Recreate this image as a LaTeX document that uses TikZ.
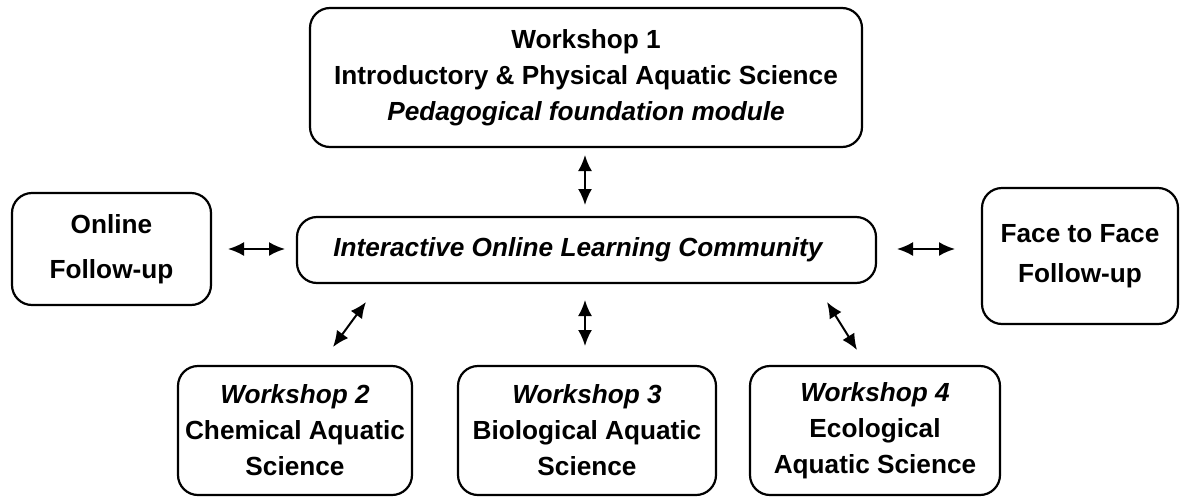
\documentclass[tikz,border=0pt]{standalone}
\usepackage{fontspec}
\setmainfont{Liberation Sans}
\usetikzlibrary{arrows.meta}
\begin{document}
\begin{tikzpicture}[x=1pt,y=-1pt,
  box/.style={draw, line width=2.2pt, rounded corners=20pt, align=center, inner sep=0pt,
    font=\fontsize{26.2}{36}\selectfont\bfseries},
  link/.style={line width=2pt, {Latex[length=16pt,width=14pt]}-{Latex[length=16pt,width=14pt]}}]
\useasboundingbox (0,0) rectangle (1186,501);
\node[box, minimum width=552pt, minimum height=139pt] (w1) at (586,77.5)
  {Workshop 1\\Introductory \& Physical Aquatic Science\\\textit{Pedagogical foundation module}};
\node[box, minimum width=199pt, minimum height=112pt, font=\fontsize{26.2}{45}\selectfont\bfseries] (on) at (111.5,249) {Online\\Follow-up};
\node[box, minimum width=579pt, minimum height=66pt] (olc) at (586.5,250)
  {\textit{Interactive Online Learning Community}\hspace{16pt}};
\node[box, minimum width=196pt, minimum height=136pt, font=\fontsize{26.2}{40}\selectfont\bfseries] (ff) at (1080,256) {Face to Face\\Follow-up};
\node[box, minimum width=234pt, minimum height=129pt] (w2) at (295,430.5)
  {\textit{Workshop 2}\\Chemical Aquatic\\Science};
\node[box, minimum width=258pt, minimum height=129pt] (w3) at (587,430.5)
  {\textit{Workshop 3}\\Biological Aquatic\\Science};
\node[box, minimum width=250pt, minimum height=129pt] (w4) at (875,430.5)
  {\textit{Workshop 4}\\Ecological\\Aquatic Science};
\coordinate (a1) at (585,155); \coordinate (b1) at (585,205);
\coordinate (a2) at (228,249); \coordinate (b2) at (285,249);
\coordinate (a3) at (897,249); \coordinate (b3) at (955,249);
\coordinate (a4) at (333,347); \coordinate (b4) at (366,302);
\coordinate (a5) at (585,300); \coordinate (b5) at (585,346);
\coordinate (a6) at (827,302); \coordinate (b6) at (857,350);
\draw[link] (a1) -- (b1);
\draw[link] (a2) -- (b2);
\draw[link] (a3) -- (b3);
\draw[link] (a4) -- (b4);
\draw[link] (a5) -- (b5);
\draw[link] (a6) -- (b6);
\end{tikzpicture}
\end{document}
